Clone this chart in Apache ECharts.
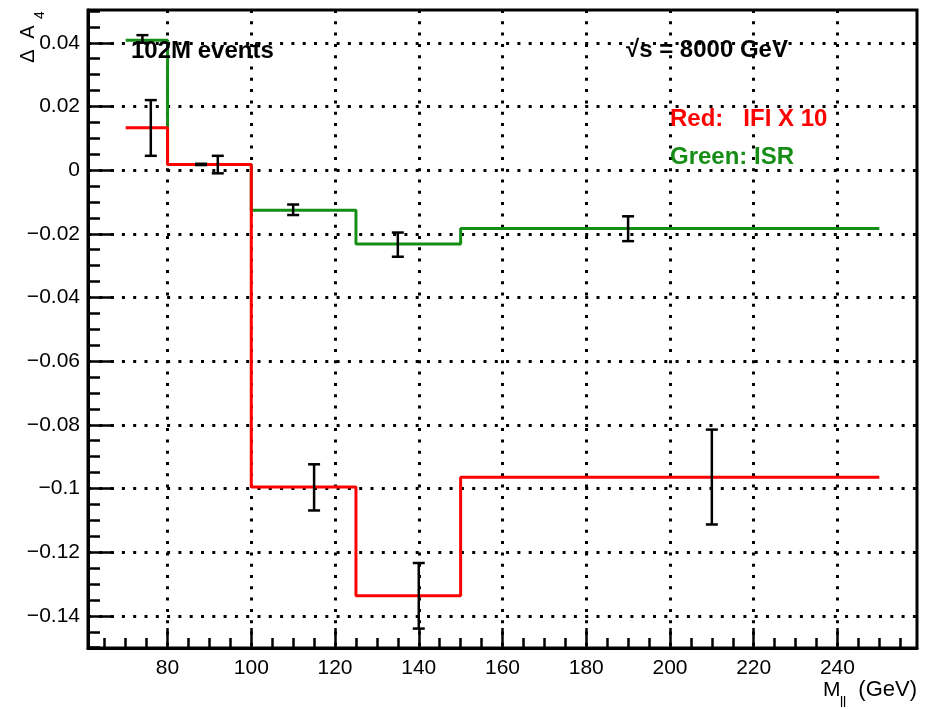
<!DOCTYPE html>
<html><head><meta charset="utf-8">
<script src="https://cdn.jsdelivr.net/npm/echarts@6/dist/echarts.min.js"></script>
<style>html,body{margin:0;padding:0;background:#fff}#c{width:929px;height:709px}</style>
</head><body><div id="c"></div>
<script>
// ---- data ----
const binEdges = [70, 80, 100, 125, 150, 250];
const greenISR = [0.0408, 0.0018, -0.0126, -0.0232, -0.0183];
const redIFI   = [0.0133, 0.0018, -0.0995, -0.1337, -0.0965];
const errX    = [74, 88, 110, 135, 190, 76, 92, 115, 140, 210];
const errLow  = [0.0400, 0.0016, -0.0141, -0.0272, -0.0223, 0.0045, -0.0010, -0.1069, -0.1440, -0.1113];
const errHigh = [0.0424, 0.0020, -0.0108, -0.0196, -0.0145, 0.0220, 0.0045, -0.0924, -0.1234, -0.0815];
const xTickLabels = [80, 100, 120, 140, 160, 180, 200, 220, 240];
const yTickLabels = [-0.14, -0.12, -0.1, -0.08, -0.06, -0.04, -0.02, 0, 0.02, 0.04];

// ---- layout helpers ----
const FONT = 'Liberation Sans, Arial, Helvetica, sans-serif';
const xMin = 61, xMax = 259, yMin = -0.1501, yMax = 0.0503;
const xMinor = []; for (let v = 65; v <= 255; v += 5) xMinor.push(v);
const yMinor = []; for (let k = -30; k <= 10; k++) yMinor.push(Math.round(k * 5) / 1000);
const GREEN = 'rgb(22,142,22)';
const RED = '#ff0000';

function stepData(vals) {
  return binEdges.map((e, i) => [e, vals[Math.min(i, vals.length - 1)]]);
}
function fmtY(v) {
  const s = String(Number(v.toFixed(3)));
  return s.replace('-', '\u2212');
}
const tickStyle = { color: '#000', width: 2.5 };
const gridLine = { show: true, lineStyle: { color: '#000', width: 3, type: [3, 8.3] } };

const chart = echarts.init(document.getElementById('c'), null, { renderer: 'canvas' });
chart.setOption({
  animation: false,
  backgroundColor: '#fff',
  grid: { left: 88, right: 12, top: 10, bottom: 61, show: true, borderColor: '#000', borderWidth: 3, containLabel: false, outerBoundsMode: 'none' },
  xAxis: [
    { type: 'value', min: xMin, max: xMax, position: 'bottom',
      axisLine: { show: true, onZero: false, lineStyle: { color: '#000', width: 3 } },
      axisTick: { show: true, inside: true, length: 20, lineStyle: tickStyle, customValues: xTickLabels },
      axisLabel: { show: true, customValues: xTickLabels, fontSize: 21, fontFamily: FONT, color: '#000', margin: 10 },
      splitLine: gridLine },
    { type: 'value', min: xMin, max: xMax, position: 'bottom',
      axisLine: { show: false, onZero: false },
      axisTick: { show: true, inside: true, length: 10, lineStyle: tickStyle, customValues: xMinor },
      axisLabel: { show: false }, splitLine: { show: false } }
  ],
  yAxis: [
    { type: 'value', min: yMin, max: yMax, position: 'left',
      axisLine: { show: true, onZero: false, lineStyle: { color: '#000', width: 3 } },
      axisTick: { show: true, inside: true, length: 26, lineStyle: tickStyle, customValues: yTickLabels },
      axisLabel: { show: true, customValues: yTickLabels, fontSize: 21, fontFamily: FONT, color: '#000', margin: 8, formatter: fmtY },
      splitLine: gridLine },
    { type: 'value', min: yMin, max: yMax, position: 'left',
      axisLine: { show: false, onZero: false },
      axisTick: { show: true, inside: true, length: 12, lineStyle: tickStyle, customValues: yMinor },
      axisLabel: { show: false }, splitLine: { show: false } }
  ],
  series: [
    { name: 'ISR', type: 'line', step: 'end', data: stepData(greenISR), symbol: 'none',
      lineStyle: { color: GREEN, width: 3 }, z: 3 },
    { name: 'IFI x 10', type: 'line', step: 'end', data: stepData(redIFI), symbol: 'none',
      lineStyle: { color: RED, width: 3 }, z: 4 },
    { name: 'errors', type: 'custom', z: 5,
      data: errX.map((x, i) => [x, errLow[i], errHigh[i]]),
      encode: { x: 0, y: [1, 2] },
      renderItem: function (params, api) {
        const x = api.value(0);
        const lo = api.coord([x, api.value(1)]);
        const hi = api.coord([x, api.value(2)]);
        const w = 6;
        const st = { stroke: '#000', lineWidth: 2.5 };
        return { type: 'group', children: [
          { type: 'line', shape: { x1: lo[0], y1: lo[1], x2: hi[0], y2: hi[1] }, style: st },
          { type: 'line', shape: { x1: lo[0] - w, y1: lo[1], x2: lo[0] + w, y2: lo[1] }, style: st },
          { type: 'line', shape: { x1: hi[0] - w, y1: hi[1], x2: hi[0] + w, y2: hi[1] }, style: st }
        ] };
      } }
  ],
  graphic: [
    { type: 'text', x: 131, y: 51, z: 10, style: { text: '102M events', fontSize: 24, fontWeight: 'bold', fontFamily: FONT, fill: '#000', align: 'left', verticalAlign: 'middle' } },
    { type: 'text', x: 626, y: 50, z: 10, style: { text: '\u221As = 8000 GeV', fontSize: 24, fontWeight: 'bold', fontFamily: FONT, fill: '#000', align: 'left', verticalAlign: 'middle' } },
    { type: 'text', x: 670, y: 119, z: 10, style: { text: 'Red:   IFI X 10', fontSize: 24, fontWeight: 'bold', fontFamily: FONT, fill: RED, align: 'left', verticalAlign: 'middle' } },
    { type: 'text', x: 670, y: 157, z: 10, style: { text: 'Green: ISR', fontSize: 24, fontWeight: 'bold', fontFamily: FONT, fill: GREEN, align: 'left', verticalAlign: 'middle' } },
    // y-axis title  (Delta A_4), rotated
    { type: 'text', x: 28, y: 56, rotation: Math.PI / 2, style: { text: '\u0394', fontSize: 20, fontFamily: FONT, fill: '#000', align: 'center', verticalAlign: 'middle' } },
    { type: 'text', x: 28, y: 32, rotation: Math.PI / 2, style: { text: 'A', fontSize: 20, fontFamily: FONT, fill: '#000', align: 'center', verticalAlign: 'middle' } },
    { type: 'text', x: 40, y: 15, rotation: Math.PI / 2, style: { text: '4', fontSize: 14, fontFamily: FONT, fill: '#000', align: 'center', verticalAlign: 'middle' } },
    // x-axis title  M_ll (GeV)
    { type: 'text', x: 823, y: 690, style: { text: 'M', fontSize: 21, fontFamily: FONT, fill: '#000', align: 'left', verticalAlign: 'middle' } },
    { type: 'text', x: 840, y: 703, style: { text: 'll', fontSize: 14, fontFamily: FONT, fill: '#000', align: 'left', verticalAlign: 'middle' } },
    { type: 'text', x: 917, y: 690, style: { text: '(GeV)', fontSize: 22, fontFamily: FONT, fill: '#000', align: 'right', verticalAlign: 'middle' } }
  ]
});
</script>
</body></html>
